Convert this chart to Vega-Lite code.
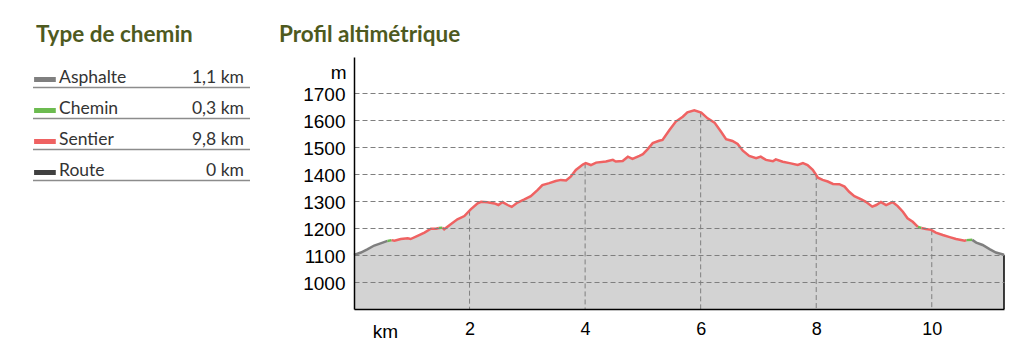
{
  "$schema": "https://vega.github.io/schema/vega-lite/v6.json",
  "background": "white",
  "padding": {"left": 31, "top": 23, "right": 10, "bottom": 5},
  "spacing": 104,
  "bounds": "flush",
  "config": {
    "view": {"stroke": null},
    "title": {"font": "Lato", "fontSize": 22.5, "fontWeight": "bold", "color": "#4e5a1e", "anchor": "start", "frame": "group", "baseline": "alphabetic", "offset": 11}
  },
  "datasets": {
    "legend": [
      {"type": "Asphalte", "dist": "1,1 km"},
      {"type": "Chemin", "dist": "0,3 km"},
      {"type": "Sentier", "dist": "9,8 km"},
      {"type": "Route", "dist": "0 km"}
    ],
    "vgrid": [
      {"km": 2, "m": 1264},
      {"km": 4, "m": 1439},
      {"km": 6, "m": 1628},
      {"km": 8, "m": 1396},
      {"km": 10, "m": 1192}
    ],
    "edge": [
      {"km": 11.25, "m": 1101}
    ],
    "profile": [
      {"km": 0, "m": 1100, "type": "Asphalte", "seg": 1},
      {"km": 0.12, "m": 1109, "type": "Asphalte", "seg": 1},
      {"km": 0.23, "m": 1121, "type": "Asphalte", "seg": 1},
      {"km": 0.35, "m": 1135, "type": "Asphalte", "seg": 1},
      {"km": 0.46, "m": 1143, "type": "Asphalte", "seg": 1},
      {"km": 0.58, "m": 1152, "type": "Asphalte", "seg": 1},
      {"km": 0.58, "m": 1152, "type": "Chemin", "seg": 2},
      {"km": 0.65, "m": 1155, "type": "Chemin", "seg": 2},
      {"km": 0.65, "m": 1155, "type": "Sentier", "seg": 3},
      {"km": 0.70, "m": 1153, "type": "Sentier", "seg": 3},
      {"km": 0.81, "m": 1159, "type": "Sentier", "seg": 3},
      {"km": 0.93, "m": 1162, "type": "Sentier", "seg": 3},
      {"km": 0.98, "m": 1159, "type": "Sentier", "seg": 3},
      {"km": 1.10, "m": 1171, "type": "Sentier", "seg": 3},
      {"km": 1.22, "m": 1183, "type": "Sentier", "seg": 3},
      {"km": 1.33, "m": 1197, "type": "Sentier", "seg": 3},
      {"km": 1.42, "m": 1197, "type": "Sentier", "seg": 3},
      {"km": 1.47, "m": 1200, "type": "Sentier", "seg": 3},
      {"km": 1.47, "m": 1200, "type": "Chemin", "seg": 4},
      {"km": 1.53, "m": 1201, "type": "Chemin", "seg": 4},
      {"km": 1.53, "m": 1201, "type": "Sentier", "seg": 5},
      {"km": 1.56, "m": 1195, "type": "Sentier", "seg": 5},
      {"km": 1.68, "m": 1215, "type": "Sentier", "seg": 5},
      {"km": 1.79, "m": 1232, "type": "Sentier", "seg": 5},
      {"km": 1.91, "m": 1244, "type": "Sentier", "seg": 5},
      {"km": 2.02, "m": 1269, "type": "Sentier", "seg": 5},
      {"km": 2.14, "m": 1291, "type": "Sentier", "seg": 5},
      {"km": 2.20, "m": 1297, "type": "Sentier", "seg": 5},
      {"km": 2.31, "m": 1295, "type": "Sentier", "seg": 5},
      {"km": 2.43, "m": 1291, "type": "Sentier", "seg": 5},
      {"km": 2.50, "m": 1285, "type": "Sentier", "seg": 5},
      {"km": 2.57, "m": 1296, "type": "Sentier", "seg": 5},
      {"km": 2.66, "m": 1285, "type": "Sentier", "seg": 5},
      {"km": 2.73, "m": 1278, "type": "Sentier", "seg": 5},
      {"km": 2.83, "m": 1294, "type": "Sentier", "seg": 5},
      {"km": 2.95, "m": 1306, "type": "Sentier", "seg": 5},
      {"km": 3.06, "m": 1318, "type": "Sentier", "seg": 5},
      {"km": 3.18, "m": 1341, "type": "Sentier", "seg": 5},
      {"km": 3.26, "m": 1359, "type": "Sentier", "seg": 5},
      {"km": 3.38, "m": 1366, "type": "Sentier", "seg": 5},
      {"km": 3.49, "m": 1374, "type": "Sentier", "seg": 5},
      {"km": 3.58, "m": 1378, "type": "Sentier", "seg": 5},
      {"km": 3.67, "m": 1376, "type": "Sentier", "seg": 5},
      {"km": 3.75, "m": 1390, "type": "Sentier", "seg": 5},
      {"km": 3.84, "m": 1415, "type": "Sentier", "seg": 5},
      {"km": 3.96, "m": 1435, "type": "Sentier", "seg": 5},
      {"km": 4.01, "m": 1440, "type": "Sentier", "seg": 5},
      {"km": 4.10, "m": 1433, "type": "Sentier", "seg": 5},
      {"km": 4.19, "m": 1442, "type": "Sentier", "seg": 5},
      {"km": 4.36, "m": 1446, "type": "Sentier", "seg": 5},
      {"km": 4.48, "m": 1452, "type": "Sentier", "seg": 5},
      {"km": 4.53, "m": 1446, "type": "Sentier", "seg": 5},
      {"km": 4.65, "m": 1448, "type": "Sentier", "seg": 5},
      {"km": 4.74, "m": 1464, "type": "Sentier", "seg": 5},
      {"km": 4.82, "m": 1456, "type": "Sentier", "seg": 5},
      {"km": 4.94, "m": 1467, "type": "Sentier", "seg": 5},
      {"km": 5.00, "m": 1473, "type": "Sentier", "seg": 5},
      {"km": 5.08, "m": 1491, "type": "Sentier", "seg": 5},
      {"km": 5.17, "m": 1514, "type": "Sentier", "seg": 5},
      {"km": 5.28, "m": 1523, "type": "Sentier", "seg": 5},
      {"km": 5.34, "m": 1526, "type": "Sentier", "seg": 5},
      {"km": 5.46, "m": 1563, "type": "Sentier", "seg": 5},
      {"km": 5.57, "m": 1594, "type": "Sentier", "seg": 5},
      {"km": 5.69, "m": 1612, "type": "Sentier", "seg": 5},
      {"km": 5.77, "m": 1628, "type": "Sentier", "seg": 5},
      {"km": 5.89, "m": 1636, "type": "Sentier", "seg": 5},
      {"km": 6.01, "m": 1627, "type": "Sentier", "seg": 5},
      {"km": 6.12, "m": 1606, "type": "Sentier", "seg": 5},
      {"km": 6.24, "m": 1590, "type": "Sentier", "seg": 5},
      {"km": 6.35, "m": 1557, "type": "Sentier", "seg": 5},
      {"km": 6.44, "m": 1529, "type": "Sentier", "seg": 5},
      {"km": 6.55, "m": 1522, "type": "Sentier", "seg": 5},
      {"km": 6.64, "m": 1511, "type": "Sentier", "seg": 5},
      {"km": 6.73, "m": 1486, "type": "Sentier", "seg": 5},
      {"km": 6.84, "m": 1467, "type": "Sentier", "seg": 5},
      {"km": 6.96, "m": 1458, "type": "Sentier", "seg": 5},
      {"km": 7.04, "m": 1464, "type": "Sentier", "seg": 5},
      {"km": 7.13, "m": 1452, "type": "Sentier", "seg": 5},
      {"km": 7.25, "m": 1447, "type": "Sentier", "seg": 5},
      {"km": 7.30, "m": 1454, "type": "Sentier", "seg": 5},
      {"km": 7.42, "m": 1445, "type": "Sentier", "seg": 5},
      {"km": 7.54, "m": 1440, "type": "Sentier", "seg": 5},
      {"km": 7.68, "m": 1433, "type": "Sentier", "seg": 5},
      {"km": 7.77, "m": 1440, "type": "Sentier", "seg": 5},
      {"km": 7.85, "m": 1433, "type": "Sentier", "seg": 5},
      {"km": 7.94, "m": 1415, "type": "Sentier", "seg": 5},
      {"km": 8.03, "m": 1386, "type": "Sentier", "seg": 5},
      {"km": 8.11, "m": 1378, "type": "Sentier", "seg": 5},
      {"km": 8.20, "m": 1372, "type": "Sentier", "seg": 5},
      {"km": 8.29, "m": 1363, "type": "Sentier", "seg": 5},
      {"km": 8.40, "m": 1362, "type": "Sentier", "seg": 5},
      {"km": 8.49, "m": 1353, "type": "Sentier", "seg": 5},
      {"km": 8.57, "m": 1334, "type": "Sentier", "seg": 5},
      {"km": 8.66, "m": 1318, "type": "Sentier", "seg": 5},
      {"km": 8.78, "m": 1306, "type": "Sentier", "seg": 5},
      {"km": 8.86, "m": 1297, "type": "Sentier", "seg": 5},
      {"km": 8.97, "m": 1279, "type": "Sentier", "seg": 5},
      {"km": 9.04, "m": 1285, "type": "Sentier", "seg": 5},
      {"km": 9.12, "m": 1296, "type": "Sentier", "seg": 5},
      {"km": 9.21, "m": 1285, "type": "Sentier", "seg": 5},
      {"km": 9.32, "m": 1296, "type": "Sentier", "seg": 5},
      {"km": 9.41, "m": 1281, "type": "Sentier", "seg": 5},
      {"km": 9.50, "m": 1260, "type": "Sentier", "seg": 5},
      {"km": 9.58, "m": 1236, "type": "Sentier", "seg": 5},
      {"km": 9.67, "m": 1223, "type": "Sentier", "seg": 5},
      {"km": 9.76, "m": 1204, "type": "Sentier", "seg": 5},
      {"km": 9.76, "m": 1204, "type": "Chemin", "seg": 6},
      {"km": 9.82, "m": 1200, "type": "Chemin", "seg": 6},
      {"km": 9.82, "m": 1200, "type": "Sentier", "seg": 7},
      {"km": 9.90, "m": 1196, "type": "Sentier", "seg": 7},
      {"km": 9.99, "m": 1193, "type": "Sentier", "seg": 7},
      {"km": 10.07, "m": 1183, "type": "Sentier", "seg": 7},
      {"km": 10.19, "m": 1174, "type": "Sentier", "seg": 7},
      {"km": 10.31, "m": 1166, "type": "Sentier", "seg": 7},
      {"km": 10.42, "m": 1159, "type": "Sentier", "seg": 7},
      {"km": 10.57, "m": 1153, "type": "Sentier", "seg": 7},
      {"km": 10.60, "m": 1155, "type": "Sentier", "seg": 7},
      {"km": 10.60, "m": 1155, "type": "Chemin", "seg": 8},
      {"km": 10.70, "m": 1156, "type": "Chemin", "seg": 8},
      {"km": 10.70, "m": 1156, "type": "Asphalte", "seg": 9},
      {"km": 10.77, "m": 1146, "type": "Asphalte", "seg": 9},
      {"km": 10.88, "m": 1137, "type": "Asphalte", "seg": 9},
      {"km": 11.00, "m": 1122, "type": "Asphalte", "seg": 9},
      {"km": 11.11, "m": 1109, "type": "Asphalte", "seg": 9},
      {"km": 11.25, "m": 1101, "type": "Asphalte", "seg": 9}
    ]
  },
  "hconcat": [
    {
      "width": 217,
      "height": 124,
      "title": {"text": "Type de chemin", "dx": 3},
      "data": {"name": "legend"},
      "layer": [
        {
          "mark": {"type": "rule", "strokeWidth": 1.3, "color": "#8c8c8c", "yOffset": 15},
          "encoding": {
            "x": {"datum": 1, "type": "quantitative", "scale": {"domain": [1, 2]}, "axis": null},
            "x2": {"datum": 2},
            "y": {"field": "type", "type": "nominal", "sort": null, "scale": {"type": "band", "paddingInner": 0, "paddingOuter": 0}, "axis": null}
          }
        },
        {
          "mark": {"type": "rule", "strokeWidth": 5, "yOffset": 7},
          "encoding": {
            "x": {"datum": 1.005, "type": "quantitative"},
            "x2": {"datum": 1.105},
            "y": {"field": "type", "type": "nominal", "sort": null},
            "color": {"field": "type", "type": "nominal", "scale": {"domain": ["Asphalte", "Chemin", "Sentier", "Route"], "range": ["#7f7f7f", "#6cbb50", "#ef6262", "#404040"]}, "legend": null}
          }
        },
        {
          "mark": {"type": "text", "align": "left", "baseline": "middle", "yOffset": 5, "font": "Lato", "fontSize": 17.5, "color": "#333333"},
          "encoding": {
            "x": {"datum": 1.12, "type": "quantitative"},
            "y": {"field": "type", "type": "nominal", "sort": null},
            "text": {"field": "type", "type": "nominal"}
          }
        },
        {
          "mark": {"type": "text", "align": "right", "baseline": "middle", "yOffset": 5, "font": "Lato", "fontSize": 17.5, "color": "#333333"},
          "encoding": {
            "x": {"datum": 1.972, "type": "quantitative"},
            "y": {"field": "type", "type": "nominal", "sort": null},
            "text": {"field": "dist", "type": "nominal"}
          }
        }
      ]
    },
    {
      "width": 650,
      "height": 252,
      "title": {"text": "Profil altimétrique", "dx": -75},
      "layer": [
        {
          "data": {"name": "profile"},
          "mark": {"type": "area", "color": "#d3d3d3"},
          "encoding": {
            "x": {
              "field": "km", "type": "quantitative",
              "scale": {"domain": [0, 11.25], "nice": false, "zero": false},
              "axis": {
                "values": [2, 4, 6, 8, 10], "tickCount": 20, "format": "d", "labelOverlap": false, "grid": false, "ticks": false, "labelPadding": 11,
                "labelFont": "Liberation Sans", "labelFontSize": 18, "labelColor": "black",
                "domainColor": "black", "domainWidth": 1.5, "zindex": 1,
                "title": "km", "titleFont": "Liberation Sans", "titleFontSize": 19, "titleFontWeight": "normal", "titleColor": "black",
                "titleX": 31, "titleY": 22, "titleAlign": "center", "titleBaseline": "middle"
              }
            },
            "y": {
              "field": "m", "type": "quantitative",
              "scale": {"domain": [900, 1833], "nice": false, "zero": false},
              "axis": {
                "values": [1000, 1100, 1200, 1300, 1400, 1500, 1600, 1700], "tickCount": 20, "format": "d", "labelOverlap": false,
                "grid": true, "gridDash": [5, 3], "gridColor": "#7f7f7f", "gridWidth": 1,
                "ticks": false, "labelPadding": 9, "labelOffset": 2, "labelFont": "Liberation Sans", "labelFontSize": 19, "labelColor": "black",
                "domainColor": "black", "domainWidth": 1.5, "zindex": 1,
                "title": "m", "titleAngle": 0, "titleAlign": "right", "titleBaseline": "middle", "titleX": -8, "titleY": 15,
                "titleFont": "Liberation Sans", "titleFontSize": 19, "titleFontWeight": "normal", "titleColor": "black"
              }
            },
            "y2": {"datum": 900}
          }
        },
        {
          "data": {"name": "vgrid"},
          "mark": {"type": "rule", "strokeDash": [5, 3], "color": "#7f7f7f", "strokeWidth": 1},
          "encoding": {
            "x": {"field": "km", "type": "quantitative"},
            "y": {"field": "m", "type": "quantitative"},
            "y2": {"datum": 900}
          }
        },
        {
          "data": {"name": "edge"},
          "mark": {"type": "rule", "color": "black", "strokeWidth": 1.5},
          "encoding": {
            "x": {"field": "km", "type": "quantitative"},
            "y": {"field": "m", "type": "quantitative"},
            "y2": {"datum": 900}
          }
        },
        {
          "data": {"name": "profile"},
          "mark": {"type": "line", "strokeWidth": 2.5},
          "encoding": {
            "x": {"field": "km", "type": "quantitative"},
            "y": {"field": "m", "type": "quantitative"},
            "detail": {"field": "seg", "type": "nominal"},
            "color": {"field": "type", "type": "nominal", "scale": {"domain": ["Asphalte", "Chemin", "Sentier", "Route"], "range": ["#7f7f7f", "#6cbb50", "#ef6262", "#404040"]}, "legend": null}
          }
        }
      ]
    }
  ]
}
